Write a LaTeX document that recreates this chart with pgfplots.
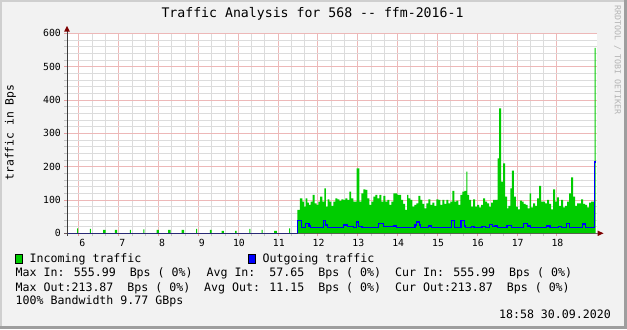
\documentclass[border=0pt]{standalone}
\usepackage{pgfplots}
\usepackage{pgfplotstable}
\pgfplotsset{compat=1.18}
\usepackage{fontspec}
\setmainfont{DejaVu Sans Mono}
\definecolor{canvas}{HTML}{F2F2F2}
\definecolor{shadea}{HTML}{CFCFCF}
\definecolor{shadeb}{HTML}{9E9E9E}
\definecolor{majgrid}{HTML}{EDB8B8}
\definecolor{mingrid}{HTML}{DCDCDC}
\definecolor{majtick}{HTML}{E39E9E}
\definecolor{mintick}{HTML}{C4C4C4}
\definecolor{ingreen}{HTML}{00CC00}
\definecolor{outblue}{HTML}{0000FF}
\definecolor{axiscol}{HTML}{3C3C3C}
\definecolor{arrowcol}{HTML}{7F0000}
\definecolor{wm}{HTML}{B4B4B4}
\newcommand{\legfont}{\fontsize{11.6bp}{14bp}\selectfont}
\newcommand{\tickfont}{\fontsize{9.8bp}{11bp}\selectfont}

\pgfplotstableread{
x y
5.70 0
5.957 15
5.982 0
6.276 13
6.30 0
6.61 10
6.67 0
6.90 10
6.96 0
7.28 10
7.305 0
7.615 12
7.64 0
7.95 10
8.01 0
8.24 10
8.30 0
8.58 10
8.64 0
8.94 13
8.965 0
9.29 10
9.33 0
9.585 7
9.64 0
9.92 7
9.96 0
10.28 13
10.305 0
10.59 10
10.615 0
10.90 7
10.97 0
11.28 15
11.305 0
11.484 70
11.551 105
11.61 95
11.652 80
11.694 105
11.735 92
11.777 85
11.819 95
11.869 115
11.92 90
11.97 85
12.012 95
12.054 110
12.112 95
12.162 135
12.204 80
12.246 102
12.288 95
12.338 82
12.389 95
12.439 105
12.489 102
12.539 97
12.589 102
12.64 100
12.69 105
12.74 100
12.79 125
12.832 105
12.891 95
12.941 95
12.975 195
13.042 95
13.092 120
13.142 132
13.192 130
13.243 105
13.293 85
13.343 95
13.393 110
13.444 115
13.494 105
13.544 115
13.594 95
13.644 112
13.695 95
13.745 100
13.795 85
13.845 95
13.896 120
13.946 120
13.996 115
14.089 100
14.14 88
14.19 70
14.24 115
14.273 105
14.323 100
14.373 80
14.424 85
14.474 90
14.524 112
14.574 100
14.625 88
14.675 75
14.725 90
14.775 102
14.826 85
14.876 92
14.926 82
14.976 102
15.027 100
15.077 85
15.127 100
15.177 88
15.227 100
15.278 90
15.328 95
15.378 127
15.428 95
15.479 98
15.529 85
15.579 115
15.629 125
15.68 127
15.73 185
15.755 115
15.797 100
15.847 80
15.897 102
15.948 80
15.998 85
16.048 78
16.098 85
16.149 105
16.199 95
16.249 90
16.299 80
16.35 92
16.40 100
16.45 100
16.517 225
16.55 375
16.60 155
16.65 210
16.70 110
16.75 75
16.785 82
16.835 135
16.87 188
16.92 110
16.97 80
17.02 72
17.07 98
17.12 95
17.17 88
17.22 85
17.27 75
17.32 120
17.355 78
17.405 90
17.455 82
17.505 105
17.555 142
17.605 95
17.655 95
17.705 90
17.755 100
17.805 88
17.855 72
17.905 132
17.955 95
18.005 108
18.055 82
18.11 100
18.16 78
18.21 82
18.26 95
18.31 120
18.36 168
18.41 110
18.46 82
18.51 90
18.56 90
18.61 102
18.66 88
18.71 85
18.76 78
18.81 92
18.86 95
18.93 95
18.95 556
18.975 556
}\incoming

\pgfplotstableread{
x y
5.70 0
11.484 38
11.593 17
11.694 30
11.777 22
11.819 17
12.137 38
12.188 25
12.246 17
12.64 25
12.74 20
12.891 17
12.975 34
13.025 20
13.109 17
13.527 30
13.644 20
13.896 22
13.98 17
14.44 25
14.47 34
14.55 25
14.574 17
14.775 22
14.86 17
15.36 38
15.43 17
15.596 38
15.68 22
15.70 17
15.865 20
15.92 17
16.12 20
16.20 17
16.307 27
16.39 20
16.45 22
16.517 17
16.75 24
16.87 17
17.16 30
17.27 22
17.34 17
17.75 22
17.83 17
18.04 20
18.125 17
18.25 30
18.31 17
18.645 28
18.73 17
18.95 214
18.975 214
}\outgoing

\begin{document}
\begin{tikzpicture}[x=1bp,y=1bp]
\useasboundingbox (0,0) rectangle (627,329);
\fill[shadea] (0,0) rectangle (627,329);
\fill[shadeb] (624,0) rectangle (627,329);
\fill[shadeb] (0,0) rectangle (627,3);
\fill[canvas] (2,3) rectangle (624,327);

\begin{axis}[
  at={(67bp,95.7bp)}, anchor=south west,
  scale only axis, width=530bp, height=200bp,
  xmin=5.70, xmax=19.01, ymin=0, ymax=600,
  axis background/.style={fill=white},
  axis line style={draw=none},
  xtick={6,7,8,9,10,11,12,13,14,15,16,17,18},
  xticklabels={{\hspace*{5.6bp}6},{\hspace*{5.6bp}7},{\hspace*{5.6bp}8},{\hspace*{5.6bp}9},10,11,12,13,14,15,16,17,18},
  ytick={0,100,200,300,400,500,600},
  minor x tick num=2, minor y tick num=4,
  grid=both,
  major grid style={draw=majgrid, line width=0.9bp},
  minor grid style={draw=mingrid, line width=0.9bp},
  tick align=outside, tick pos=left,
  major tick length=3bp, minor tick length=3bp,
  major tick style={draw=majtick, line width=0.9bp},
  minor tick style={draw=mintick, line width=0.9bp},
  /pgf/number format/assume math mode=true,
  xticklabel style={font=\tickfont, anchor=north, inner sep=0pt, xshift=0.7bp, yshift=-2.5bp},
  yticklabel style={font=\tickfont, anchor=east, inner sep=0pt, xshift=-3bp},
]
\addplot[const plot, fill=ingreen, draw=none] table[x=x,y=y] {\incoming} \closedcycle;
\addplot[const plot, draw=outblue, line width=1.2bp] table[x=x,y=y] {\outgoing};
\end{axis}

\draw[axiscol, line width=1bp, opacity=0.7] (64,95.7) -- (598,95.7);
\draw[axiscol, line width=1bp] (67,93) -- (67,298);
\fill[arrowcol] (603.5,95.7) -- (597.5,98.5) -- (597.5,92.9) -- cycle;
\fill[arrowcol] (67,303) -- (64.2,297.5) -- (69.8,297.5) -- cycle;

\node[anchor=base, inner sep=0pt, font=\fontsize{13.2bp}{15bp}\selectfont] at (312.5,311.7) {Traffic Analysis for 568 -{}- ffm-2016-1};
\node[rotate=90, inner sep=0pt, font=\fontsize{11.4bp}{13bp}\selectfont] at (10.5,196.5) {traffic in Bps};
\node[rotate=-90, inner sep=0pt, text=wm, font=\fontsize{8.3bp}{10bp}\selectfont] at (617.5,269) {RRDTOOL / TOBI OETIKER};

\filldraw[fill=ingreen, draw=black, line width=0.6bp] (15.3,65.9) rectangle (22.7,74.3);
\filldraw[fill=outblue, draw=black, line width=0.6bp] (248.3,65.9) rectangle (255.7,74.3);
\node[anchor=base west, inner sep=0pt, font=\legfont] at (29.5,66.3) {Incoming traffic};
\node[anchor=base west, inner sep=0pt, font=\legfont] at (262.4,66.3) {Outgoing traffic};
\node[anchor=base west, inner sep=0pt, font=\legfont] at (15.5,52.3) {Max In: 555.99~~Bps ( 0\%)~~Avg In:~~57.65~~Bps ( 0\%)~~Cur In: 555.99~~Bps ( 0\%)};
\node[anchor=base west, inner sep=0pt, font=\legfont] at (15.5,38.0) {Max Out:213.87~~Bps ( 0\%)~~Avg Out: 11.15~~Bps ( 0\%)~~Cur Out:213.87~~Bps ( 0\%)};
\node[anchor=base west, inner sep=0pt, font=\legfont] at (15.5,24.7) {100\% Bandwidth 9.77 GBps};
\node[anchor=base east, inner sep=0pt, font=\legfont] at (611,10.5) {18:58 30.09.2020};
\end{tikzpicture}
\end{document}
